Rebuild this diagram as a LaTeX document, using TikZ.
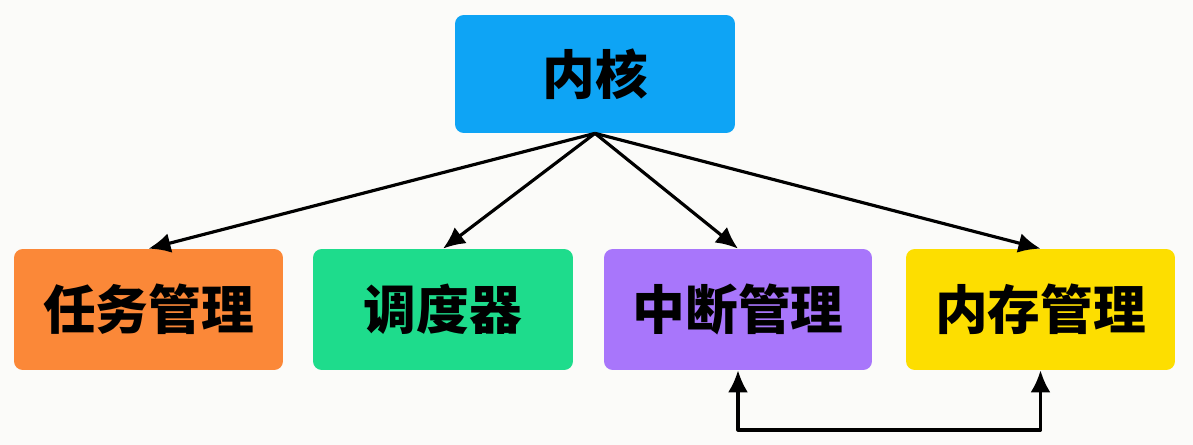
\documentclass[tikz,border=0pt]{standalone}
\usepackage{fontspec}
\newfontfamily\cjk{Noto Sans CJK SC}
\usetikzlibrary{arrows.meta}
\definecolor{kbg}{RGB}{251,251,249}
\definecolor{kblue}{RGB}{14,164,245}
\definecolor{korange}{RGB}{251,136,56}
\definecolor{kgreen}{RGB}{30,220,140}
\definecolor{kpurple}{RGB}{168,118,251}
\definecolor{kyellow}{RGB}{253,222,0}
\begin{document}
\begin{tikzpicture}[x=0.02cm, y=-0.02cm, line join=round,
	>={Latex[length=4.4mm,width=4mm]},
	box/.style={rounded corners=5pt, minimum height=2.42cm, inner sep=0pt,
		font=\cjk\bfseries\fontsize{30}{36}\selectfont},
	link/.style={line width=1.8pt, ->}]
	\fill[kbg] (0,0) rectangle (1193,445);
	\useasboundingbox (0,0) rectangle (1193,445);
	% top
	\node[box, fill=kblue, minimum width=5.6cm, minimum height=2.36cm] (kern) at (595,74) {内核};
	% bottom row
	\node[box, fill=korange, minimum width=5.38cm] (task) at (148.5,309.5) {任务管理};
	\node[box, fill=kgreen, minimum width=5.2cm] (sched) at (443,309.5) {调度器};
	\node[box, fill=kpurple, minimum width=5.36cm] (intr) at (738,309.5) {中断管理};
	\node[box, fill=kyellow, minimum width=5.38cm] (mem) at (1040.5,309.5) {内存管理};
	\coordinate (bus) at (0,430);
	\draw[link] (kern.south) -- (task.north);
	\draw[link] (kern.south) -- (sched.north);
	\draw[link] (kern.south) -- (intr.north);
	\draw[link] (kern.south) -- (mem.north);
	\draw[link, <->] (intr.south) -- (intr.south |- bus) -| (mem.south);
\end{tikzpicture}
\end{document}
